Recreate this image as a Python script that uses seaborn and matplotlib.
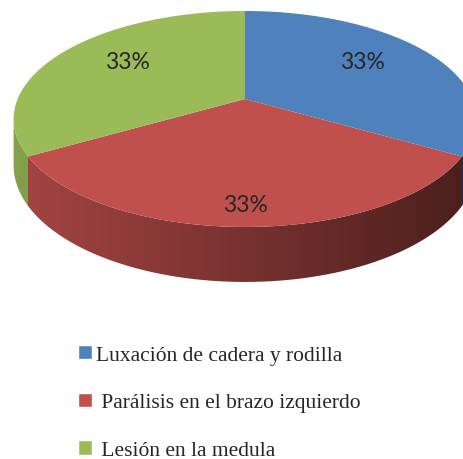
import numpy as np
import matplotlib
matplotlib.use('Agg')
import matplotlib.pyplot as plt
from matplotlib.path import Path
from matplotlib.patches import PathPatch, Patch
from matplotlib.transforms import Transform
from matplotlib.colors import to_rgb
import seaborn as sns

# Data
labels = ['Luxación de cadera y rodilla', ' Parálisis en el brazo izquierdo', ' Lesión en la medula']
values = [1, 1, 1]
colors = ['#4F81BD', '#C0504D', '#9BBB59']

# perspective of the tilted pie (unit circle -> pixels)
X0, E = 245.0, 100.0
A, B, C, D = 227.4, -85.8, 0.185, 44.8


class Tilt(Transform):
    input_dims = output_dims = 2

    def __init__(self, s=0.0):
        super().__init__()
        self.s = s

    def transform_non_affine(self, xy):
        xy = np.asarray(xy, dtype=float).reshape(-1, 2)
        w = 1 + C * xy[:, 1]
        return np.column_stack([X0 + A * xy[:, 0] / w, (E + B * xy[:, 1] + D * self.s) / w])

    def transform_path_non_affine(self, path):
        # sample the curves densely before bending them
        tt = np.linspace(0, 1, 40)
        pts = np.vstack([bez(tt) for bez, code in path.iter_bezier()])
        return Path(self.transform_non_affine(pts), closed=True)


sns.set_style('white')
plt.rcParams['font.family'] = ['Liberation Serif', 'DejaVu Serif']

fig = plt.figure(figsize=(4.64, 4.60), dpi=100)
ax = fig.add_axes([0, 0, 1, 1])

# top face of the pie
wedges, texts, autotexts = ax.pie(values, colors=colors, startangle=90, counterclock=False,
                                  autopct='%1.0f%%', wedgeprops=dict(linewidth=0),
                                  textprops=dict(family=['Lato', 'DejaVu Sans'], fontsize=16.5))
top = Tilt(0)
for w in wedges:
    w.set_transform(top + ax.transData)

# side of the pie, shaded from left to right
bottom = Tilt(1)
lim = np.degrees(np.arcsin(C))
xs = np.linspace(X0 - A - 20, X0 + A + 20, 256)
shade = np.interp(xs, [13, 477], [0.86, 0.38])
for w, c in zip(wedges, colors):
    for s in (-360, 0, 360):
        a = max(w.theta1 + s, -180 + lim)
        b = min(w.theta2 + s, -lim)
        if b <= a:
            continue
        t = np.radians(np.linspace(a, b, 100))
        circ = np.column_stack([np.cos(t), np.sin(t)])
        verts = np.vstack([top.transform(circ), bottom.transform(circ[::-1])])
        verts = np.vstack([verts, verts[:1]])
        patch = PathPatch(Path(verts, closed=True), facecolor='none', edgecolor='none')
        ax.add_patch(patch)
        img = (shade[:, None] * np.array(to_rgb(c)))[None, :, :]
        im = ax.imshow(img, extent=(xs[0], xs[-1], 320, 80), aspect='auto',
                       zorder=0.5, interpolation='bilinear')
        im.set_clip_path(patch)

# percentage labels
for w, txt in zip(wedges, autotexts):
    mid = np.radians((w.theta1 + w.theta2) / 2)
    txt.set_transform(top + ax.transData)
    txt.set_position((0.64 * np.cos(mid), 0.82 * np.sin(mid) - 0.03))

ax.set_aspect('auto')
ax.set_xlim(0, 464)
ax.set_ylim(460, 0)
ax.axis('off')

handles = [Patch(facecolor=c) for c in colors]
ax.legend(handles, labels, loc='upper left', bbox_to_anchor=(0.168, 0.248),
          bbox_transform=fig.transFigure, frameon=False, fontsize=15.5,
          handlelength=0.65, handleheight=0.65, handletextpad=0.2,
          labelspacing=1.3, borderpad=0, borderaxespad=0)

fig.savefig('out.png', dpi=100)
